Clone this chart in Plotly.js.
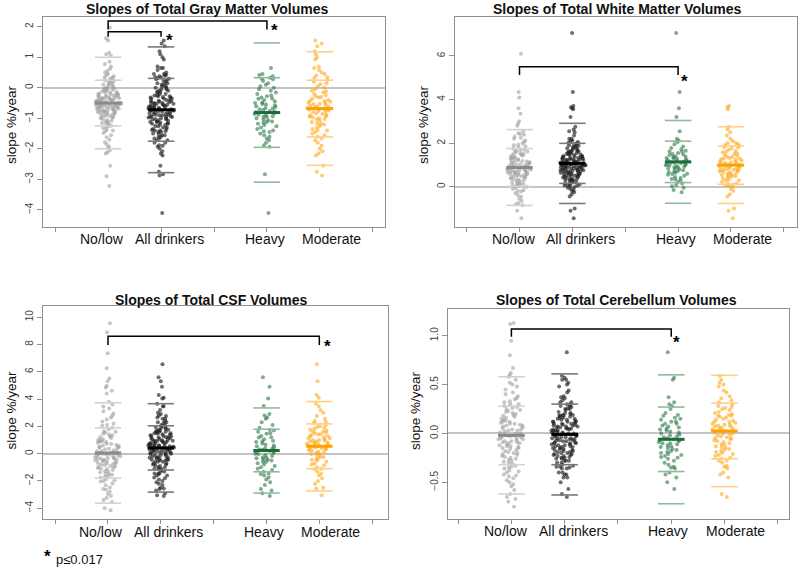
<!DOCTYPE html>
<html><head><meta charset="utf-8">
<script src="https://cdn.plot.ly/plotly-3.0.1.min.js"></script>
<style>html,body{margin:0;padding:0;background:#fff}#chart{width:800px;height:568px}</style>
</head><body><div id="chart"></div>
<script>
// ---------- categories / ticks ----------
const groups = ['No/low', 'All drinkers', 'Heavy', 'Moderate'];
const groupPos = [1, 2, 4, 5];
const tickVals = [0, 1, 2, 3, 4, 5, 6];
const panelTitles = ['Slopes of Total Gray Matter Volumes', 'Slopes of Total White Matter Volumes',
  'Slopes of Total CSF Volumes', 'Slopes of Total Cerebellum Volumes'];
const yTitle = 'slope %/year';
const footnote = 'p≤0.017';

// ---------- Gray matter ----------
const gmNoLow = [1.97, 1.62, 1.55, 1.15, 1.1, 1.05, 0.85, 0.78, 0.7, 0.62,
  0.55, 0.5, 0.45, 0.42, 0.38, 0.33, 0.3, 0.27, 0.22, 0.18,
  0.15, 0.12, 0.1, 0.06, 0.03, 0.0, -0.02, -0.05, -0.07, -0.1,
  -0.12, -0.14, -0.16, -0.18, -0.2, -0.21, -0.23, -0.25, -0.27, -0.28,
  -0.3, -0.31, -0.33, -0.34, -0.36, -0.37, -0.39, -0.4, -0.41, -0.43,
  -0.44, -0.45, -0.47, -0.48, -0.49, -0.5, -0.51, -0.52, -0.53, -0.55,
  -0.56, -0.57, -0.58, -0.6, -0.61, -0.62, -0.64, -0.65, -0.67, -0.68,
  -0.7, -0.72, -0.73, -0.75, -0.77, -0.79, -0.8, -0.82, -0.85, -0.87,
  -0.9, -0.92, -0.95, -0.98, -1.0, -1.03, -1.06, -1.1, -1.13, -1.17,
  -1.2, -1.24, -1.28, -1.32, -1.37, -1.42, -1.48, -1.55, -1.62, -1.7,
  -1.78, -1.85, -1.92, -1.97, -2.05, -2.12, -2.15, -2.55, -2.9, -3.22,
  0.2, 0.08, -0.04, -0.15, -0.22, -0.29, -0.35, -0.38, -0.42, -0.46,
  -0.5, -0.54, -0.59, -0.63, -0.66, -0.71, -0.76, -0.83, -0.88, -0.96,
  0.35, 0.25, -0.09, -0.19, -0.32, -0.45, -0.52, -0.6, -0.69, -0.74,
  -0.81, -0.93, -1.08, -1.15, -1.26, -1.4, -0.02, -0.26, -0.48, -0.57];
const gmHeavy = [0.65, 0.45, 0.42, 0.38, 0.33, 0.28, 0.22, 0.15, 0.1, 0.05,
  0.0, -0.05, -0.1, -0.15, -0.2, -0.25, -0.28, -0.32, -0.36, -0.4,
  -0.44, -0.48, -0.5, -0.53, -0.57, -0.6, -0.63, -0.66, -0.7, -0.73,
  -0.76, -0.78, -0.8, -0.83, -0.86, -0.88, -0.9, -0.93, -0.96, -1.0,
  -1.03, -1.06, -1.1, -1.14, -1.18, -1.22, -1.26, -1.3, -1.35, -1.4,
  -1.45, -1.5, -1.55, -1.6, -1.66, -1.72, -1.8, -1.88, -1.93, -2.83,
  -4.1, -0.35, -0.68, -0.95, -1.12, -0.55, 0.3, -1.42];
const gmModerate = [1.55, 1.45, 1.36, 1.2, 1.1, 1.0, 0.93, 0.65, 0.58, 0.5,
  0.45, 0.4, 0.32, 0.26, 0.2, 0.12, 0.05, 0.0, -0.05, -0.1,
  -0.15, -0.2, -0.24, -0.28, -0.32, -0.36, -0.4, -0.43, -0.46, -0.5,
  -0.53, -0.56, -0.6, -0.62, -0.65, -0.68, -0.7, -0.72, -0.75, -0.78,
  -0.8, -0.83, -0.86, -0.9, -0.93, -0.97, -1.0, -1.04, -1.08, -1.12,
  -1.16, -1.2, -1.25, -1.3, -1.35, -1.4, -1.45, -1.5, -1.55, -1.6,
  -1.66, -1.72, -1.8, -1.9, -2.0, -2.08, -2.15, -2.22, -2.55, -2.75,
  -2.87, -0.42, -0.58, -0.66, -0.74, -0.88, -1.02, -0.3, -0.12, 0.15,
  -0.52, -0.69, -1.18, -1.38, 0.35, 0.7, -0.95, -0.48];
const gmMeans = [-0.5, -0.72, -0.81, -0.68];
const gmSDs = [0.75, 1.03, 1.14, 0.93];

// ---------- White matter ----------
const wmNoLow = [6.1, 4.35, 4.1, 3.6, 3.35, 3.0, 2.9, 2.8, 2.55, 2.42,
  2.38, 2.3, 2.2, 2.12, 2.05, 1.98, 1.92, 1.86, 1.8, 1.75,
  1.7, 1.65, 1.6, 1.55, 1.5, 1.46, 1.42, 1.38, 1.34, 1.3,
  1.26, 1.22, 1.18, 1.15, 1.12, 1.09, 1.06, 1.03, 1.0, 0.98,
  0.95, 0.93, 0.9, 0.88, 0.86, 0.84, 0.82, 0.8, 0.78, 0.76,
  0.74, 0.72, 0.7, 0.68, 0.65, 0.62, 0.6, 0.57, 0.54, 0.51,
  0.48, 0.45, 0.42, 0.38, 0.35, 0.32, 0.28, 0.25, 0.2, 0.16,
  0.12, 0.08, 0.04, 0.0, -0.05, -0.1, -0.16, -0.22, -0.3, -0.38,
  -0.46, -0.55, -0.65, -0.75, -0.8, -0.85, -1.1, -1.45, 0.97, 0.91,
  0.87, 0.83, 0.79, 0.71, 0.66, 0.58, 0.49, 1.11, 1.24, 1.36,
  1.48, 1.62, 0.3, 0.18, 0.06, -0.2, 2.45, 2.25, 1.05, 0.94,
  0.77, 0.61, 0.53, 0.4, 1.16, 1.29, 1.52, 1.68, 1.9, 0.1];
const wmHeavy = [7.05, 4.35, 3.6, 3.2, 2.55, 2.2, 2.12, 2.05, 1.95, 1.85,
  1.78, 1.72, 1.65, 1.6, 1.55, 1.5, 1.45, 1.4, 1.36, 1.32,
  1.28, 1.25, 1.22, 1.18, 1.15, 1.12, 1.08, 1.05, 1.02, 0.98,
  0.95, 0.92, 0.88, 0.85, 0.8, 0.76, 0.72, 0.68, 0.64, 0.6,
  0.55, 0.5, 0.45, 0.4, 0.34, 0.28, 0.22, 0.15, 0.08, 0.02,
  -0.05, -0.15, -0.25, 1.3, 1.2, 1.1, 0.9, 0.7, 1.48, 1.62,
  0.58, 0.82, 1.0, 1.38, 0.35, 0.98];
const wmModerate = [3.7, 3.65, 3.55, 2.75, 2.62, 2.5, 2.35, 2.2, 2.1, 2.02,
  1.95, 1.88, 1.82, 1.76, 1.7, 1.64, 1.58, 1.52, 1.46, 1.41,
  1.36, 1.32, 1.28, 1.24, 1.2, 1.16, 1.12, 1.08, 1.05, 1.02,
  0.99, 0.96, 0.93, 0.9, 0.87, 0.84, 0.81, 0.78, 0.75, 0.72,
  0.69, 0.66, 0.62, 0.58, 0.54, 0.5, 0.46, 0.42, 0.38, 0.33,
  0.28, 0.22, 0.16, 0.1, 0.04, -0.03, -0.1, -0.2, -0.35, -0.45,
  -1.0, -1.1, -1.45, 1.0, 1.1, 0.95, 1.3, 0.8, 0.6, 1.5,
  1.9, 0.7, 0.3, 1.15, 0.88, 2.0, 1.25, 0.48, 0.12, 1.6,
  0.98, 0.76, 1.38, 0.05, 0.52, 1.8];
const wmMeans = [0.88, 1.07, 1.14, 0.99];
const wmSDs = [0.87, 0.92, 0.95, 0.88];

// ---------- CSF ----------
const csfNoLow = [9.55, 8.9, 7.35, 6.25, 5.5, 5.3, 4.95, 4.85, 4.6, 4.4,
  3.8, 3.6, 3.45, 3.3, 3.1, 2.95, 2.8, 2.65, 2.5, 2.35,
  2.2, 2.05, 1.9, 1.78, 1.65, 1.55, 1.45, 1.35, 1.25, 1.15,
  1.05, 0.95, 0.88, 0.8, 0.72, 0.64, 0.56, 0.48, 0.4, 0.32,
  0.25, 0.18, 0.1, 0.04, -0.02, -0.08, -0.14, -0.2, -0.26, -0.32,
  -0.38, -0.44, -0.5, -0.56, -0.62, -0.68, -0.74, -0.8, -0.86, -0.92,
  -0.98, -1.05, -1.12, -1.2, -1.28, -1.36, -1.45, -1.55, -1.65, -1.75,
  -1.85, -1.95, -2.05, -2.18, -2.32, -2.48, -2.65, -2.8, -2.95, -3.1,
  -3.25, -3.4, -3.55, -4.0, -4.15, 0.0, -0.1, -0.3, -0.5, -0.7,
  0.2, 0.5, 0.7, 1.0, 1.4, -0.6, -0.9, -1.1, -1.5, 0.6,
  -0.4, -0.2, 0.15, 0.35, 0.9, 1.2, 1.6, 2.1, -1.3, -1.7,
  -2.0, -2.6, 0.05, -0.15, -0.45, -0.75, 0.45, 0.85, -1.0, -0.35];
const csfHeavy = [5.6, 4.9, 4.05, 3.5, 2.9, 2.8, 2.65, 2.55, 2.3, 2.1,
  1.9, 1.75, 1.6, 1.45, 1.3, 1.18, 1.05, 0.95, 0.85, 0.75,
  0.65, 0.55, 0.45, 0.35, 0.28, 0.2, 0.12, 0.05, -0.02, -0.1,
  -0.18, -0.26, -0.34, -0.42, -0.5, -0.6, -0.7, -0.8, -0.9, -1.0,
  -1.1, -1.2, -1.32, -1.45, -1.6, -1.75, -1.9, -2.1, -2.3, -2.6,
  -2.7, -2.9, -3.1, 0.3, 0.6, 0.9, -0.3, -0.6, 1.2, 1.5,
  0.0, 0.4, -0.45, 1.7, -1.5, 0.15];
const csfModerate = [6.55, 5.3, 4.3, 4.1, 3.65, 3.45, 3.2, 3.0, 2.75, 2.55,
  2.4, 2.25, 2.1, 1.95, 1.82, 1.7, 1.6, 1.5, 1.42, 1.35,
  1.28, 1.2, 1.12, 1.05, 0.98, 0.9, 0.82, 0.75, 0.68, 0.6,
  0.52, 0.45, 0.38, 0.3, 0.22, 0.14, 0.06, -0.02, -0.1, -0.2,
  -0.3, -0.4, -0.5, -0.6, -0.72, -0.85, -1.0, -1.15, -1.3, -1.45,
  -1.6, -1.8, -2.0, -2.2, -2.5, -2.55, -3.05, 0.55, 0.7, 0.95,
  1.15, 1.4, 1.6, 1.9, 0.25, 0.4, 0.0, -0.25, 0.8, 1.3,
  2.0, 0.65, 0.5, 1.0, -0.45, -0.8, 1.55, 0.35, 0.1, 2.3,
  1.75, 0.9, -1.1, 0.6];
const csfMeans = [0.05, 0.42, 0.23, 0.54];
const csfSDs = [1.84, 1.62, 1.56, 1.64];

// ---------- Cerebellum ----------
const cbNoLow = [1.13, 1.12, 0.95, 0.8, 0.67, 0.62, 0.6, 0.55, 0.52, 0.48,
  0.45, 0.42, 0.38, 0.35, 0.32, 0.3, 0.27, 0.25, 0.22, 0.2,
  0.18, 0.16, 0.14, 0.12, 0.1, 0.08, 0.06, 0.04, 0.03, 0.01,
  0.0, -0.01, -0.03, -0.04, -0.05, -0.06, -0.08, -0.09, -0.1, -0.12,
  -0.13, -0.14, -0.15, -0.17, -0.18, -0.2, -0.21, -0.23, -0.25, -0.27,
  -0.29, -0.31, -0.33, -0.35, -0.38, -0.4, -0.43, -0.46, -0.5, -0.54,
  -0.58, -0.62, -0.65, -0.67, -0.7, -0.75, 0.02, -0.02, 0.05, -0.07,
  0.09, -0.11, 0.13, -0.16, 0.17, -0.19, 0.21, -0.22, 0.24, -0.26,
  0.28, -0.3, 0.33, -0.36, 0.4, -0.42, 0.5, -0.48, 0.0, -0.04,
  0.07, -0.09, 0.11, -0.13, 0.15, -0.24, 0.19, -0.28, 0.26, -0.34,
  -0.02, 0.04, -0.06, 0.08, -0.1, 0.36, -0.44, 0.58, -0.52, -0.01,
  0.12, -0.15, 0.03, -0.05, -0.08, 0.1, -0.2, 0.3, -0.39, 0.23];
const cbHeavy = [0.83, 0.57, 0.55, 0.37, 0.32, 0.3, 0.25, 0.21, 0.18, 0.15,
  0.12, 0.1, 0.08, 0.06, 0.04, 0.02, 0.0, -0.02, -0.04, -0.05,
  -0.06, -0.08, -0.09, -0.1, -0.12, -0.13, -0.15, -0.17, -0.19, -0.21,
  -0.23, -0.25, -0.28, -0.3, -0.32, -0.34, -0.36, -0.4, -0.45, -0.5,
  -0.57, 0.05, -0.03, -0.07, 0.1, -0.11, 0.14, -0.16, 0.19, -0.2,
  -0.22, 0.01, -0.01, 0.07, -0.14, -0.26, 0.03, -0.35, -0.18, 0.12,
  -0.24, -0.1, 0.16, 0.28, -0.42, -0.07];
const cbModerate = [0.59, 0.55, 0.52, 0.5, 0.48, 0.42, 0.38, 0.34, 0.3, 0.28,
  0.25, 0.22, 0.2, 0.18, 0.16, 0.14, 0.12, 0.1, 0.08, 0.07,
  0.05, 0.04, 0.03, 0.02, 0.0, -0.01, -0.03, -0.05, -0.07, -0.09,
  -0.11, -0.13, -0.15, -0.17, -0.19, -0.21, -0.23, -0.25, -0.28, -0.3,
  -0.33, -0.36, -0.4, -0.42, -0.45, -0.62, -0.65, 0.06, 0.09, 0.11,
  0.13, 0.15, 0.19, 0.24, 0.27, -0.02, -0.04, -0.06, -0.08, -0.12,
  -0.2, -0.26, 0.01, 0.17, 0.21, 0.32, -0.14, -0.18, 0.03, 0.26,
  0.44, -0.1, 0.07, 0.12, -0.22, -0.34, 0.0, 0.09, 0.36, -0.16,
  0.05, -0.05, 0.18, -0.28];
const cbMeans = [-0.02, -0.01, -0.06, 0.025];
const cbSDs = [0.30, 0.31, 0.33, 0.285];

// ---------- significance brackets: [from, to, top, drop, starX, starY] ----------
const gmBrackets = [[1, 2, 1.84, 1.67, 2.15, 1.73], [1, 4, 2.19, 1.91, 4.15, 2.05]];
const wmBrackets = [[1, 4, 5.51, 5.13, 4.12, 5.08]];
const csfBrackets = [[1, 5, 8.61, 7.97, 5.16, 8.24]];
const cbBrackets = [[1, 4, 1.068, 0.99, 4.1, 0.983]];

// ---------- styling ----------
const pointColors = ['rgba(160,160,160,0.6)', 'rgba(30,30,30,0.65)', 'rgba(40,118,68,0.6)', 'rgba(255,168,25,0.6)'];
const meanColors = ['#8a8a8a', '#000000', '#1d6b3a', '#ffa000'];
const sdColors = ['#d2d2d2', '#7a7a7a', '#8fbb9d', '#ffcf85'];

const panels = [
  {lists: [gmNoLow, gmHeavy, gmModerate], means: gmMeans, sds: gmSDs, br: gmBrackets,
   box: [43, 385, 17, 227], xr: [-0.23, 6.23], yr: [-4.56, 2.32], yt: [-4, -3, -2, -1, 0, 1, 2], fmt: '',
   title: [207, 8.5], ytl: [12, 125], lab: [[102.5, 169.5, 265, 331.7], 239.5]},
  {lists: [wmNoLow, wmHeavy, wmModerate], means: wmMeans, sds: wmSDs, br: wmBrackets,
   box: [455, 797, 17, 227], xr: [-0.22, 6.25], yr: [-1.85, 7.79], yt: [0, 2, 4, 6], fmt: '',
   title: [617, 8.5], ytl: [424, 125], lab: [[513.8, 580.3, 675.8, 742.5], 239.5]},
  {lists: [csfNoLow, csfHeavy, csfModerate], means: csfMeans, sds: csfSDs, br: csfBrackets,
   box: [43, 388, 306, 519], xr: [-0.23, 6.3], yr: [-4.79, 10.82], yt: [-4, -2, 0, 2, 4, 6, 8, 10], fmt: '',
   title: [211, 300], ytl: [10.5, 410], lab: [[101.3, 168.8, 263.8, 330.2], 532]},
  {lists: [cbNoLow, cbHeavy, cbModerate], means: cbMeans, sds: cbSDs, br: cbBrackets,
   box: [448, 789, 309, 519], xr: [-0.19, 6.21], yr: [-0.876, 1.274], yt: [-0.5, 0, 0.5, 1], fmt: '.1f',
   title: [616, 300], ytl: [415, 411], lab: [[506.2, 573.8, 668.3, 735.2], 530.5]}
];

const W = 800, H = 568;
const fx = v => v / W, fy = v => 1 - v / H;
const FONT = 'Liberation Sans, Arial, Helvetica, sans-serif';
const traces = [];
const layout = {
  width: W, height: H, margin: {l: 0, r: 0, t: 0, b: 0},
  paper_bgcolor: '#fff', plot_bgcolor: '#fff', showlegend: false, boxmode: 'overlay',
  font: {family: FONT, color: '#000'}, annotations: []
};

panels.forEach((p, i) => {
  const n = i === 0 ? '' : String(i + 1);
  const xa = 'x' + n, ya = 'y' + n;
  const heavy = p.lists[1], moderate = p.lists[2];
  const groupData = [p.lists[0], heavy.concat(moderate), heavy, moderate];

  layout['xaxis' + n] = {
    domain: [fx(p.box[0]), fx(p.box[1])], range: p.xr, anchor: ya,
    tickmode: 'array', tickvals: tickVals, showticklabels: false,
    showline: true, mirror: true, linecolor: '#8f8f8f', linewidth: 1,
    ticks: 'outside', ticklen: 4, tickcolor: '#8f8f8f', showgrid: false, zeroline: false
  };
  layout['yaxis' + n] = {
    domain: [fy(p.box[3]), fy(p.box[2])], range: p.yr, anchor: xa,
    tickmode: 'array', tickvals: p.yt, tickformat: p.fmt, tickangle: -90,
    showline: true, mirror: true, linecolor: '#8f8f8f', linewidth: 1,
    ticks: 'outside', ticklen: 5, tickcolor: '#8f8f8f', showgrid: false,
    zeroline: true, zerolinecolor: '#c4c4c4', zerolinewidth: 2,
    tickfont: {size: 10, color: '#444', family: FONT}
  };

  groupData.forEach((vals, g) => {
    traces.push({
      type: 'box', y: vals, x0: groupPos[g], width: 0.5, xaxis: xa, yaxis: ya,
      boxpoints: 'all', jitter: 1, pointpos: 0, whiskerwidth: 0,
      fillcolor: 'rgba(0,0,0,0)', line: {width: 0, color: 'rgba(0,0,0,0)'},
      marker: {size: 4, color: pointColors[g], line: {width: 0}},
      hoverinfo: 'skip', name: groups[g]
    });
  });

  groupData.forEach((vals, g) => {
    const c = groupPos[g], m = p.means[g], s = p.sds[g];
    const lx = [], ly = [];
    [2, 1, -1, -2].forEach(k => { lx.push(c - 0.25, c + 0.25, null); ly.push(m + k * s, m + k * s, null); });
    traces.push({type: 'scatter', mode: 'lines', x: lx, y: ly, xaxis: xa, yaxis: ya,
      line: {color: sdColors[g], width: 1.6}, hoverinfo: 'skip'});
    traces.push({type: 'scatter', mode: 'lines', x: [c - 0.25, c + 0.25], y: [m, m], xaxis: xa, yaxis: ya,
      line: {color: meanColors[g], width: 3}, hoverinfo: 'skip'});
  });

  p.br.forEach(b => {
    traces.push({type: 'scatter', mode: 'lines', x: [b[0], b[0], b[1], b[1]], y: [b[3], b[2], b[2], b[3]],
      xaxis: xa, yaxis: ya, line: {color: '#000', width: 1.5}, hoverinfo: 'skip'});
    layout.annotations.push({xref: xa, yref: ya, x: b[4], y: b[5], text: '<b>*</b>', showarrow: false,
      xanchor: 'center', yanchor: 'middle', yshift: -5, font: {size: 17, color: '#000', family: FONT}});
  });

  groups.forEach((g, k) => {
    layout.annotations.push({xref: 'paper', yref: 'paper', x: fx(p.lab[0][k]), y: fy(p.lab[1]),
      text: g, showarrow: false, xanchor: 'center', yanchor: 'middle',
      font: {size: 14, color: '#111', family: FONT}});
  });

  layout.annotations.push({xref: 'paper', yref: 'paper', x: fx(p.title[0]), y: fy(p.title[1]),
    text: '<b>' + panelTitles[i] + '</b>', showarrow: false, xanchor: 'center', yanchor: 'middle',
    font: {size: 14, color: '#111', family: FONT}});
  layout.annotations.push({xref: 'paper', yref: 'paper', x: fx(p.ytl[0]), y: fy(p.ytl[1]),
    text: yTitle, textangle: -90, showarrow: false, xanchor: 'center', yanchor: 'middle',
    font: {size: 13.5, color: '#111', family: FONT}});
});

layout.annotations.push({xref: 'paper', yref: 'paper', x: fx(47), y: fy(551), text: '<b>*</b>',
  showarrow: false, xanchor: 'center', yanchor: 'middle', yshift: -5, font: {size: 17, color: '#000', family: FONT}});
layout.annotations.push({xref: 'paper', yref: 'paper', x: fx(54), y: fy(559), text: footnote,
  showarrow: false, xanchor: 'left', yanchor: 'middle', font: {size: 13, color: '#111', family: FONT}});

Plotly.newPlot('chart', traces, layout, {displayModeBar: false, staticPlot: true});
</script>
</body></html>
